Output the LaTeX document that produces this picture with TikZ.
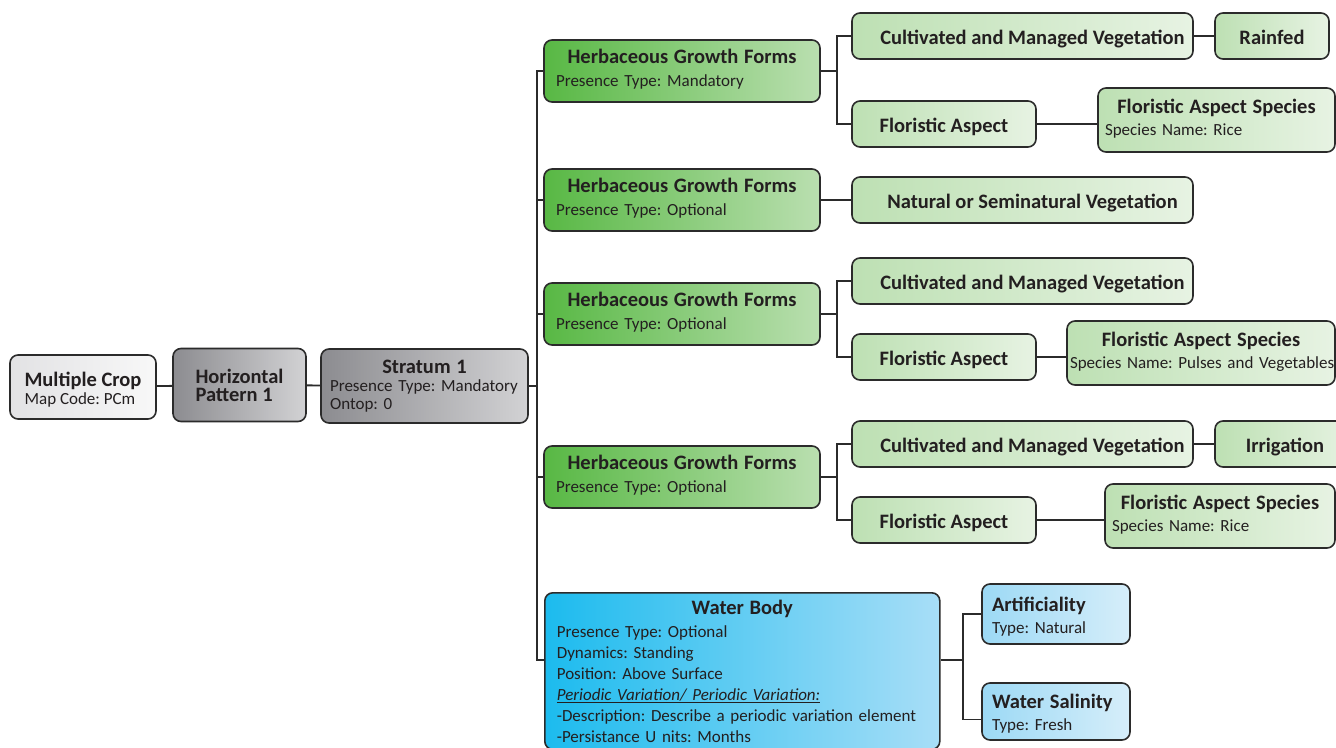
\documentclass[tikz,border=0pt]{standalone}
\usepackage{fontspec}
\setmainfont{Carlito}
\usetikzlibrary{positioning}
\definecolor{ink}{HTML}{231F20}
\definecolor{edge}{HTML}{2B2B2B}
\definecolor{paleL}{HTML}{E2E2E4}
\definecolor{paleR}{HTML}{F8F8F8}
\definecolor{greyL}{HTML}{8C8C90}
\definecolor{greyR}{HTML}{D2D2D4}
\definecolor{herbL}{HTML}{58B844}
\definecolor{herbM}{HTML}{78C566}
\definecolor{herbR}{HTML}{BADFB0}
\definecolor{leafL}{HTML}{BDE0B3}
\definecolor{leafR}{HTML}{E7F3E3}
\definecolor{waterL}{HTML}{1CBBEE}
\definecolor{waterR}{HTML}{A8DEF7}
\definecolor{skyL}{HTML}{9CD9F5}
\definecolor{skyR}{HTML}{D6EEFA}
\newcommand\hdfont{\fontsize{20.5}{23}\selectfont\bfseries}
\newcommand\hd[1]{{\hdfont #1}}
\newcommand\chd[1]{\makebox[\linewidth]{\hd{#1}}}
\frenchspacing
\hyphenpenalty=10000
\exhyphenpenalty=10000

\begin{document}
\begin{tikzpicture}[x=1pt,y=-1pt,
    box/.style={draw=edge,line width=1.6pt,rounded corners=8pt,inner ysep=0pt,
      text=ink,font=\fontsize{17}{21}\selectfont},
    pale/.style={box,left color=paleL,right color=paleR},
    grey/.style={box,left color=greyL,right color=greyR},
    herb/.style={box,left color=herbL,middle color=herbM,right color=herbR,
      minimum width=276,minimum height=62,text width=252,inner xsep=12pt,
      align=left,text depth=29pt},
    leaf/.style={box,left color=leafL,right color=leafR,minimum height=46,
      font=\hdfont,text height=16pt,text depth=0pt},
    nudge/.style={execute at begin node=\hspace*{#1}},
    species/.style={box,left color=leafL,right color=leafR,minimum height=64,
      inner xsep=7pt,align=left,text depth=27pt},
    water/.style={box,left color=waterL,right color=waterR},
    sky/.style={box,left color=skyL,right color=skyR,minimum width=148,
      text width=128,inner xsep=10pt,align=left,text height=18pt,text depth=24pt},
    link/.style={draw=edge,line width=1.8pt}]
  \useasboundingbox (0,0) rectangle (1336,747);

  % left part of the tree
  \node[pale,minimum width=146,minimum height=64,align=left,
    font=\fontsize{17}{18}\selectfont,text height=37pt,text depth=2pt] (mc) at (83,387)
    {\hd{Multiple Crop}\\Map Code: PCm};
  \node[grey,minimum width=133,minimum height=73,align=left,
    font=\fontsize{20.5}{18}\selectfont\bfseries] (hp) at (239.5,385)
    {Horizontal\\Pattern 1};
  \node[grey,minimum width=207,minimum height=74,text width=195,inner xsep=6pt,
    align=left,font=\fontsize{17}{18}\selectfont] (st) at (424.5,386)
    {\chd{Stratum 1}\\\hspace*{3pt}Presence Type: Mandatory\\\hspace*{3pt}Ontop: 0};

  % herbaceous growth forms
  \node[herb] (hgf1) at (682,71) {\chd{Herbaceous Growth Forms}\\[2pt]Presence Type: Mandatory};
  \foreach \n/\y in {2/200,3/314,4/477}
    \node[herb] (hgf\n) at (682,\y) {\chd{Herbaceous Growth Forms}\\[2pt]Presence Type: Optional};
  \node[water,anchor=north west,minimum width=395,text width=371,inner xsep=12pt,
    inner ysep=7pt,align=left] (wb) at (544,592)
    {\chd{Water Body}\\[2pt]Presence Type: Optional\\Dynamics: Standing\\
     Position: Above Surface\\\underline{\textit{Periodic Variation/ Periodic Variation:}}\\
     -Description: Describe a periodic variation element\\-Persistance U nits: Months};
  \coordinate (wbin) at ([yshift=-68pt]wb.north west);
  \coordinate (wbout) at ([yshift=-68pt]wb.north east);

  % second level
  \foreach \n/\y in {1/36,2/281,3/444}
    \node[leaf,nudge=20pt,minimum width=341] (cmv\n) at (1022.5,\y) {Cultivated and Managed Vegetation};
  \node[leaf,nudge=20pt,minimum width=341] (nsv) at (1022.5,200) {Natural or Seminatural Vegetation};
  \foreach \n/\y in {1/124,2/357,3/520}
    \node[leaf,minimum width=184] (fa\n) at (944,\y) {Floristic Aspect};
  \node[leaf,minimum width=114] (rain) at (1272,36) {Rainfed};
  \node[leaf,minimum width=140] (irr) at (1285,444) {Irrigation};
  \node[species,minimum width=237,text width=223] (fas1) at (1216.5,120)
    {\chd{Floristic Aspect Species}\\[1pt]Species Name: Rice};
  \node[species,minimum width=268,text width=262,inner xsep=3pt] (fas2) at (1201,353)
    {\chd{Floristic Aspect Species}\\[1pt]\mbox{Species Name: Pulses and Vegetables}};
  \node[species,minimum width=230,text width=216] (fas3) at (1220,516)
    {\chd{Floristic Aspect Species}\\[1pt]Species Name: Rice};
  \node[sky,minimum height=60] (art) at (1056,614) {\hd{Artificiality}\\[1pt]Type: Natural};
  \node[sky,minimum height=57] (sal) at (1056,711.5) {\hd{Water Salinity}\\[1pt]Type: Fresh};

  % connectors
  \draw[link] (mc) -- (hp);
  \draw[link] (hp) -- (st);
  \draw[link] (st.east) -- ++(8,0) coordinate (trunk);
  \foreach \h in {hgf1,hgf2,hgf3,hgf4}
    \draw[link] (trunk) |- (\h.west);
  \draw[link] (trunk) |- (wbin);
  \draw[link] (hgf1.east) -- ++(16,0) coordinate (j1) |- (cmv1.west) (j1) |- (fa1.west);
  \draw[link] (hgf2) -- (nsv);
  \draw[link] (hgf3.east) -- ++(16,0) coordinate (j3) |- (cmv2.west) (j3) |- (fa2.west);
  \draw[link] (hgf4.east) -- ++(16,0) coordinate (j4) |- (cmv3.west) (j4) |- (fa3.west);
  \draw[link] (cmv1) -- (rain);
  \draw[link] (cmv3) -- (irr);
  \foreach \n in {1,2,3}
    \draw[link] (fa\n.east) -- (fa\n.east -| fas\n.west);
  \draw[link] (wbout) -- ++(22,0) coordinate (j5) |- (art.west) (j5) |- ([yshift=-8pt]sal.west);
\end{tikzpicture}
\end{document}
